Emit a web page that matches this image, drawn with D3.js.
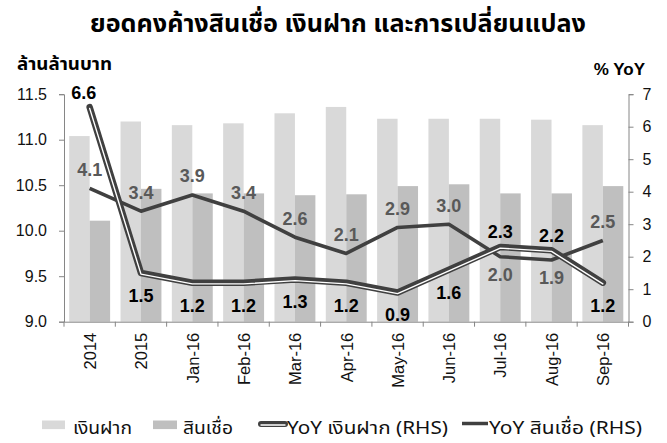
<!DOCTYPE html>
<html>
<head>
<meta charset="utf-8">
<script src="https://cdn.jsdelivr.net/npm/d3@7"></script>
<style>
  body { margin: 0; background: #fff; }
  svg text { font-family: "Liberation Sans", Arial, sans-serif; }
  .th { font-family: "Noto Sans Thai", "Noto Sans Thai UI", Tahoma, "Liberation Sans", "DejaVu Sans", sans-serif; }
</style>
</head>
<body>
<svg id="chart" width="667" height="443"></svg>
<script>
// categories and values
const categories = ["2014", "2015", "Jan-16", "Feb-16", "Mar-16", "Apr-16", "May-16", "Jun-16", "Jul-16", "Aug-16", "Sep-16"];
const deposits = [11.04, 11.20, 11.16, 11.18, 11.29, 11.36, 11.23, 11.23, 11.23, 11.22, 11.16];
const loans = [10.11, 10.46, 10.41, 10.41, 10.39, 10.40, 10.49, 10.51, 10.41, 10.41, 10.49];
const depositYoY = [6.6, 1.5, 1.2, 1.2, 1.3, 1.2, 0.9, 1.6, 2.3, 2.2, 1.2];
const loanYoY = [4.1, 3.4, 3.9, 3.4, 2.6, 2.1, 2.9, 3.0, 2.0, 1.9, 2.5];
const leftTicks = [9.0, 9.5, 10.0, 10.5, 11.0, 11.5];
const rightTicks = [0, 1, 2, 3, 4, 5, 6, 7];

const title = "ยอดคงค้างสินเชื่อ เงินฝาก และการเปลี่ยนแปลง";
const leftTitle = "ล้านล้านบาท";
const rightTitle = "% YoY";
const seriesNames = ["เงินฝาก", "สินเชื่อ", "YoY เงินฝาก (RHS)", "YoY สินเชื่อ (RHS)"];

let svg = d3.select("#chart");
let plotLeft = 64, plotRight = 628.5, plotTop = 94.2, plotBottom = 321.7;

let xScale = d3.scaleBand().domain(categories).range([plotLeft, plotRight]);
let x1 = d3.scaleBand().domain([0, 1]).range([5.2, xScale.bandwidth() - 5.2]);
let yLeft = d3.scaleLinear().domain([9, 11.5]).range([plotBottom, plotTop]);
let yRight = d3.scaleLinear().domain([0, 7]).range([plotBottom, plotTop]);

const lightBar = "#d9d9d9", darkBar = "#bfbfbf", lineCol = "#404040", axisCol = "#868686";

// titles (the Thai face in the original is a tall condensed one, so squeeze to its width)
svg.append("text").attr("class", "th")
  .attr("x", 90).attr("y", 32)
  .attr("textLength", 496).attr("lengthAdjust", "spacingAndGlyphs")
  .style("font-size", "25px").style("font-weight", "bold")
  .text(title);
svg.append("text").attr("class", "th")
  .attr("x", 17).attr("y", 70)
  .attr("textLength", 95).attr("lengthAdjust", "spacingAndGlyphs")
  .style("font-size", "18px").style("font-weight", "bold")
  .text(leftTitle);
svg.append("text")
  .attr("x", 645).attr("y", 75)
  .attr("text-anchor", "end")
  .style("font-size", "17px").style("font-weight", "bold")
  .text(rightTitle);

// bars
let groups = svg.append("g").selectAll("g").data(categories).enter().append("g")
  .attr("transform", d => "translate(" + xScale(d) + ",0)");
groups.append("rect")
  .attr("x", x1(0)).attr("width", x1.bandwidth())
  .attr("y", (d, i) => yLeft(deposits[i]))
  .attr("height", (d, i) => plotBottom - yLeft(deposits[i]))
  .style("fill", lightBar);
groups.append("rect")
  .attr("x", x1(1)).attr("width", x1.bandwidth())
  .attr("y", (d, i) => yLeft(loans[i]))
  .attr("height", (d, i) => plotBottom - yLeft(loans[i]))
  .style("fill", darkBar);

// axes
let yAxisL = d3.axisLeft(yLeft).tickValues(leftTicks).tickFormat(d3.format(".1f")).tickSize(5).tickPadding(12);
let gl = svg.append("g").attr("transform", "translate(" + plotLeft + ",0)").call(yAxisL);
let yAxisR = d3.axisRight(yRight).tickValues(rightTicks).tickFormat(d3.format("d")).tickSize(5).tickPadding(9);
let gr = svg.append("g").attr("transform", "translate(" + plotRight + ",0)").call(yAxisR);
let xAxis = d3.axisBottom(xScale).tickSize(0).tickSizeOuter(0);
let gx = svg.append("g").attr("transform", "translate(0," + plotBottom + ")").call(xAxis);
// tick marks at category boundaries
gx.selectAll(".bound").data(d3.range(categories.length + 1)).enter().append("line")
  .attr("class", "bound")
  .attr("x1", i => plotLeft + i * xScale.step()).attr("x2", i => plotLeft + i * xScale.step())
  .attr("y1", 0).attr("y2", 5).style("stroke", axisCol);
[gl, gr, gx].forEach(g => {
  g.selectAll(".domain, .tick line").style("stroke", axisCol);
  g.selectAll("text").style("font-size", "16px").style("fill", "#111").style("font-family", "'Liberation Sans', Arial, sans-serif");
});
gx.selectAll(".tick text")
  .attr("transform", "rotate(-90)")
  .attr("text-anchor", "end")
  .attr("x", -11).attr("y", 0).attr("dy", "0.38em")
  .style("font-size", "16.5px");

// lines
let cx = (d, i) => xScale(categories[i]) + xScale.bandwidth() / 2;
let loanLine = d3.line().x(cx).y(d => yRight(d));
let depLine = d3.line().x(cx).y(d => yRight(d));

svg.append("path").datum(loanYoY)
  .attr("d", loanLine)
  .style("fill", "none").style("stroke", lineCol).style("stroke-width", 3.6)
  .style("stroke-linejoin", "round");

svg.append("path").datum(depositYoY)
  .attr("d", depLine)
  .style("fill", "none").style("stroke", lineCol).style("stroke-width", 6.5)
  .style("stroke-linejoin", "round").style("stroke-linecap", "round");
svg.append("path").datum(depositYoY)
  .attr("d", depLine)
  .attr("transform", "translate(0,1.2)")
  .style("fill", "none").style("stroke", "#fff").style("stroke-width", 1.4)
  .style("stroke-linejoin", "round").style("stroke-linecap", "round");

// data labels
// deposit label sits above when it is the higher line, loan label likewise (first point: both above)
let depAbove = (d, i) => d >= loanYoY[i];
let loanAbove = (d, i) => i === 0 || d >= depositYoY[i];

svg.append("g").selectAll("text").data(depositYoY).enter().append("text")
  .attr("x", (d, i) => cx(d, i) - (i === 0 ? 6 : 0))
  .attr("y", (d, i) => yRight(d) + (depAbove(d, i) ? -15 : 22.5))
  .attr("dy", "0.36em")
  .attr("text-anchor", "middle")
  .style("font-size", "18px").style("font-weight", "bold").style("fill", "#000")
  .text(d => d.toFixed(1));

svg.append("g").selectAll("text").data(loanYoY).enter().append("text")
  .attr("x", cx)
  .attr("y", (d, i) => yRight(d) + (loanAbove(d, i) ? -19 : 18))
  .attr("dy", "0.36em")
  .attr("text-anchor", "middle")
  .style("font-size", "18px").style("font-weight", "bold").style("fill", "#595959")
  .text(d => d.toFixed(1));

// legend
let legend = svg.append("g");
let ly = 434;
let legendText = (x, w, s) => legend.append("text").attr("class", "th")
  .attr("x", x).attr("y", ly)
  .attr("textLength", w).attr("lengthAdjust", "spacingAndGlyphs")
  .style("font-size", "18px").style("fill", "#111").text(s);
legend.append("rect").attr("x", 42).attr("y", 420.5).attr("width", 23).attr("height", 8.6).style("fill", lightBar);
legendText(73, 59, seriesNames[0]);
legend.append("rect").attr("x", 153).attr("y", 420.5).attr("width", 24).attr("height", 8.6).style("fill", darkBar);
legendText(183, 50, seriesNames[1]);
legend.append("line").attr("x1", 261).attr("x2", 285).attr("y1", 424).attr("y2", 424)
  .style("stroke", lineCol).style("stroke-width", 6).style("stroke-linecap", "round");
legend.append("line").attr("x1", 261).attr("x2", 285).attr("y1", 425).attr("y2", 425)
  .style("stroke", "#fff").style("stroke-width", 1.4).style("stroke-linecap", "round");
legendText(287, 161, seriesNames[2]);
legend.append("line").attr("x1", 462).attr("x2", 488).attr("y1", 423.5).attr("y2", 423.5)
  .style("stroke", lineCol).style("stroke-width", 3.5);
legendText(489, 153, seriesNames[3]);
</script>
</body>
</html>
